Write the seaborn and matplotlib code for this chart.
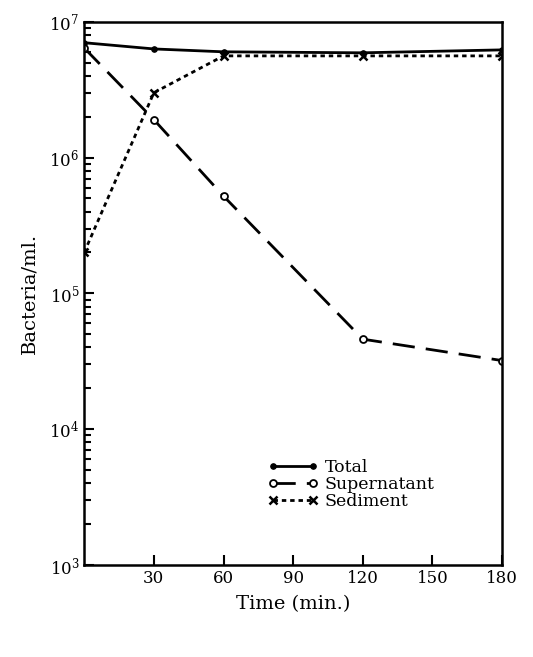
import pandas as pd
import matplotlib.pyplot as plt
import seaborn as sns

# time points (min)
time = [0, 30, 60, 120, 180]

# bacteria / ml
total = [7.0e6, 6.3e6, 6.0e6, 5.9e6, 6.2e6]
supernatant = [6.4e6, 1.9e6, 5.2e5, 4.6e4, 3.2e4]
sediment = [2.0e5, 3.0e6, 5.6e6, 5.6e6, 5.6e6]

xticks = [30, 60, 90, 120, 150, 180]

sns.set_style("ticks")
plt.rcParams['font.family'] = ['DejaVu Serif', 'DejaVu Sans']
plt.rcParams['text.color'] = 'black'
plt.rcParams['axes.labelcolor'] = 'black'
plt.rcParams['xtick.color'] = 'black'
plt.rcParams['ytick.color'] = 'black'

df = pd.DataFrame({'time': time, 'Total': total,
                   'Supernatant': supernatant, 'Sediment': sediment})

fig = plt.figure(figsize=(5.33, 6.57), dpi=100)
ax = fig.add_axes([0.158, 0.140, 0.784, 0.827])

sns.lineplot(data=df, x='time', y='Total', ax=ax, color='black', lw=2,
             marker='o', markersize=4, markeredgecolor='black',
             label='Total')
sns.lineplot(data=df, x='time', y='Supernatant', ax=ax, color='black', lw=2,
             marker='o', markersize=5, markerfacecolor='white',
             markeredgecolor='black', markeredgewidth=1.3,
             label='Supernatant')
ax.lines[-1].set_dashes([8, 4])
sns.lineplot(data=df, x='time', y='Sediment', ax=ax, color='black', lw=2,
             marker='x', markersize=6, markeredgewidth=1.8,
             markeredgecolor='black', label='Sediment')
ax.lines[-1].set_dashes([1.6, 1.4])

ax.set_yscale('log')
ax.set_ylim(1e3, 1e7)
ax.set_xlim(0, 180)
ax.set_xticks(xticks)
ax.set_xticklabels([str(t) for t in xticks])
ax.tick_params(axis='both', which='major', direction='in', length=7, width=1.5,
               labelsize=12)
ax.tick_params(axis='y', which='minor', direction='in', length=5, width=1.5)
ax.tick_params(axis='x', which='minor', bottom=False)
for sp in ax.spines.values():
    sp.set_visible(True)
    sp.set_linewidth(1.8)
    sp.set_color('black')

ax.set_xlabel('Time (min.)', fontsize=14, labelpad=6)
ax.set_ylabel('Bacteria/ml.', fontsize=14, labelpad=8)

leg = ax.legend(loc='lower left', bbox_to_anchor=(0.422, 0.088), frameon=False,
                fontsize=12.5, handlelength=2.9, handletextpad=0.4,
                labelspacing=0.0, borderaxespad=0, numpoints=2)

fig.savefig('out.png', dpi=100)
